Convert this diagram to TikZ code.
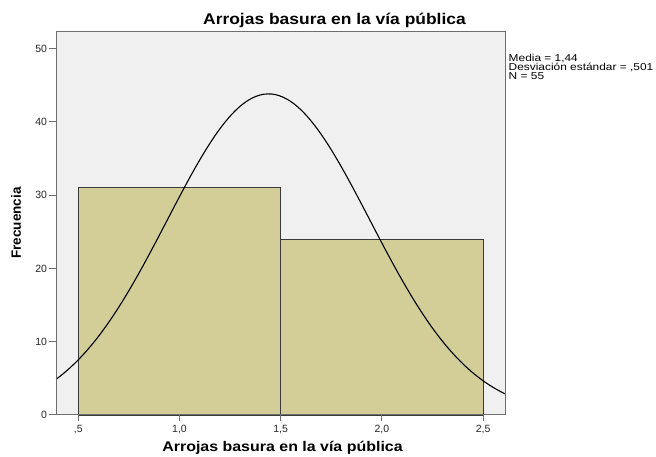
\documentclass[tikz,border=0pt]{standalone}
\usepackage{fontspec}
\setmainfont{Liberation Sans}
\definecolor{plotbg}{HTML}{F0F0F0}
\definecolor{barfill}{HTML}{D3CE98}
\definecolor{framecol}{HTML}{6E6E6E}
\definecolor{baredge}{HTML}{3A3A3A}
\begin{document}
\begin{tikzpicture}[x=1pt,y=1pt,
  ticklab/.style={font=\fontsize{10.5}{12}\selectfont, text=black!85, inner sep=0pt},
  barstyle/.style={fill=barfill, draw=baredge, line width=0.9pt},
  tickline/.style={draw=framecol, line width=1pt}]
\useasboundingbox (0,0) rectangle (656,457);
\begin{scope}[x=202.4pt, y=7.33pt, shift={(-22.9pt,42pt)}]
  % plot background and frame
  \fill[plotbg] (0.391,0) rectangle (2.612,52.25);
  % bars
  \draw[barstyle] (0.5,0) rectangle (1.5,31);
  \draw[barstyle] (1.5,0) rectangle (2.5,24);
  % normal curve
  \draw[black, line width=1.1pt, smooth, samples=120, domain=0.391:2.612]
    plot (\x, {43.7966*exp(-((\x-1.44)^2)/(2*0.501*0.501))});
  \draw[draw=framecol, line width=1pt] (0.391,0) rectangle (2.612,52.25);
  % y ticks
  \foreach \v in {0,10,20,30,40,50} {
    \draw[tickline] (0.391,\v) -- ++(-7pt,0);
    \node[ticklab, anchor=base east] (yl\v) at ([xshift=-9pt,yshift=-3.7pt]0.391,\v) {\v};
  }
  % x ticks
  \foreach \v/\t in {0.5/{,5},1.0/{1,0},1.5/{1,5},2.0/{2,0},2.5/{2,5}} {
    \draw[tickline] (\v,0) -- ++(0,-6pt);
    \node[ticklab, anchor=base] (xl\v) at ([yshift=-17.6pt]\v,0) {\t};
  }
\end{scope}
\node[font=\fontsize{15.5}{17}\selectfont\bfseries, inner sep=0pt, xscale=1.125] (title) at (334.5,436.5) {Arrojas basura en la vía pública};
\node[font=\fontsize{14}{16}\selectfont\bfseries, inner sep=0pt, xscale=1.14] (xlabel) at (282.5,9) {Arrojas basura en la vía pública};
\node[font=\fontsize{13.5}{15}\selectfont\bfseries, inner sep=0pt, rotate=90] (ylabel) at (16,234) {Frecuencia};
\node[font=\fontsize{10}{8.7}\selectfont, align=left, anchor=north west, inner sep=0pt, xscale=1.19] (legend) at (508.5,402.5)
  {Media = 1,44\\Desviación estándar = ,501\\N = 55};
\end{tikzpicture}
\end{document}
